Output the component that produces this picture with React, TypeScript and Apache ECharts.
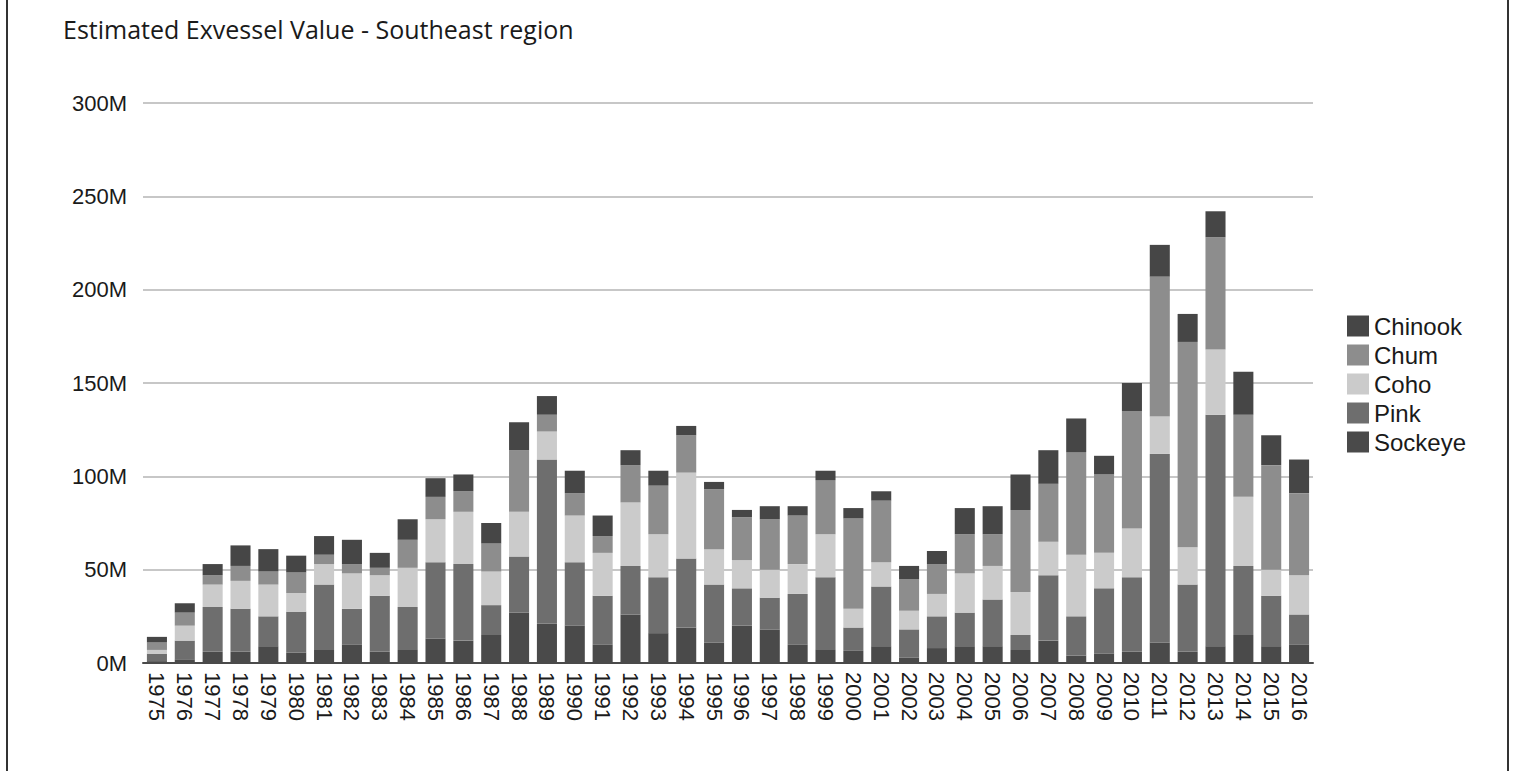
import React, { useEffect, useRef } from "react";
import * as echarts from "echarts";

const years = [
  "1975","1976","1977","1978","1979","1980","1981","1982","1983","1984",
  "1985","1986","1987","1988","1989","1990","1991","1992","1993","1994",
  "1995","1996","1997","1998","1999","2000","2001","2002","2003","2004",
  "2005","2006","2007","2008","2009","2010","2011","2012","2013","2014",
  "2015","2016",
];

// values in millions of dollars
const sockeye = [1, 2, 6, 6, 9, 5.5, 7, 10, 6, 7, 13, 12, 15, 27, 21, 20, 10, 26, 16, 19, 11, 20, 18, 10, 7, 6.5, 9, 3, 8, 9, 9, 7, 12, 4, 5, 6, 11, 6, 9, 15, 9, 10];
const pink = [4, 10, 24, 23, 16, 22, 35, 19, 30, 23, 41, 41, 16, 30, 88, 34, 26, 26, 30, 37, 31, 20, 17, 27, 39, 12.5, 32, 15, 17, 18, 25, 8, 35, 21, 35, 40, 101, 36, 124, 37, 27, 16];
const coho = [2, 8, 12, 15, 17, 10, 11, 19, 11, 21, 23, 28, 18, 24, 15, 25, 23, 34, 23, 46, 19, 15, 15, 16, 23, 10, 13, 10, 12, 21, 18, 23, 18, 33, 19, 26, 20, 20, 35, 37, 14, 21];
const chum = [4, 7, 5, 8, 7, 11, 5, 5, 4, 15, 12, 11, 15, 33, 9, 12, 9, 20, 26, 20, 32, 23, 27, 26, 29, 48.5, 33, 17, 16, 21, 17, 44, 31, 55, 42, 63, 75, 110, 60, 44, 56, 44];
const chinook = [3, 5, 6, 11, 12, 9, 10, 13, 8, 11, 10, 9, 11, 15, 10, 12, 11, 8, 8, 5, 4, 4, 7, 5, 5, 5.5, 5, 7, 7, 14, 15, 19, 18, 18, 10, 15, 17, 15, 14, 23, 16, 18];

const yTicks = [0, 50, 100, 150, 200, 250, 300];

const seriesDefs = [
  { name: "Sockeye", data: sockeye, color: "#4a4a4a" },
  { name: "Pink", data: pink, color: "#6e6e6e" },
  { name: "Coho", data: coho, color: "#cbcbcb" },
  { name: "Chum", data: chum, color: "#8d8d8d" },
  { name: "Chinook", data: chinook, color: "#464646" },
];

export default function App() {
  const ref = useRef<HTMLDivElement>(null);
  useEffect(() => {
    if (!ref.current) return;
    const chart = echarts.init(ref.current, undefined, { renderer: "svg" });
    chart.setOption({
      animation: false,
      backgroundColor: "#ffffff",
      title: {
        text: "Estimated Exvessel Value - Southeast region",
        left: 58,
        top: 11,
        textStyle: {
          fontFamily: "Open Sans",
          fontSize: 25,
          fontWeight: "normal",
          color: "#1a1a1a",
        },
      },
      legend: {
        orient: "vertical",
        left: 1342,
        top: 309,
        itemWidth: 22,
        itemHeight: 21,
        itemGap: 5,
        data: ["Chinook", "Chum", "Coho", "Pink", "Sockeye"],
        textStyle: {
          fontFamily: "Liberation Sans",
          fontSize: 24,
          lineHeight: 21,
          color: "#1a1a1a",
        },
        icon: "rect",
      },
      grid: { left: 143, right: 202, top: 103, bottom: 108 },
      xAxis: {
        type: "category",
        data: years,
        axisTick: { show: false },
        axisLine: { lineStyle: { color: "#4a4a4a", width: 2 } },
        axisLabel: {
          rotate: -90,
          interval: 0,
          fontFamily: "Liberation Sans",
          fontSize: 22,
          color: "#1a1a1a",
          margin: 9,
        },
      },
      yAxis: {
        type: "value",
        min: 0,
        max: 300,
        interval: 50,
        axisLine: { show: false },
        axisTick: { show: false },
        splitLine: { lineStyle: { color: "#b5b5b5", width: 1.5 } },
        axisLabel: {
          formatter: (v: number) => (yTicks.includes(v) ? `${v}M` : ""),
          fontFamily: "Liberation Sans",
          fontSize: 22,
          color: "#1a1a1a",
          margin: 16,
        },
      },
      series: seriesDefs.map((s) => ({
        name: s.name,
        type: "bar",
        stack: "total",
        data: s.data,
        barCategoryGap: "28%",
        itemStyle: { color: s.color },
      })),
      graphic: [
        { type: "line", shape: { x1: 7, y1: 0, x2: 7, y2: 771 }, style: { stroke: "#333", lineWidth: 2 } },
        { type: "line", shape: { x1: 1508, y1: 0, x2: 1508, y2: 771 }, style: { stroke: "#333", lineWidth: 2 } },
      ],
    });
    return () => chart.dispose();
  }, []);
  return (
    <div
      ref={ref}
      style={{ position: "absolute", left: 0, top: 0, width: 1515, height: 771 }}
    />
  );
}
